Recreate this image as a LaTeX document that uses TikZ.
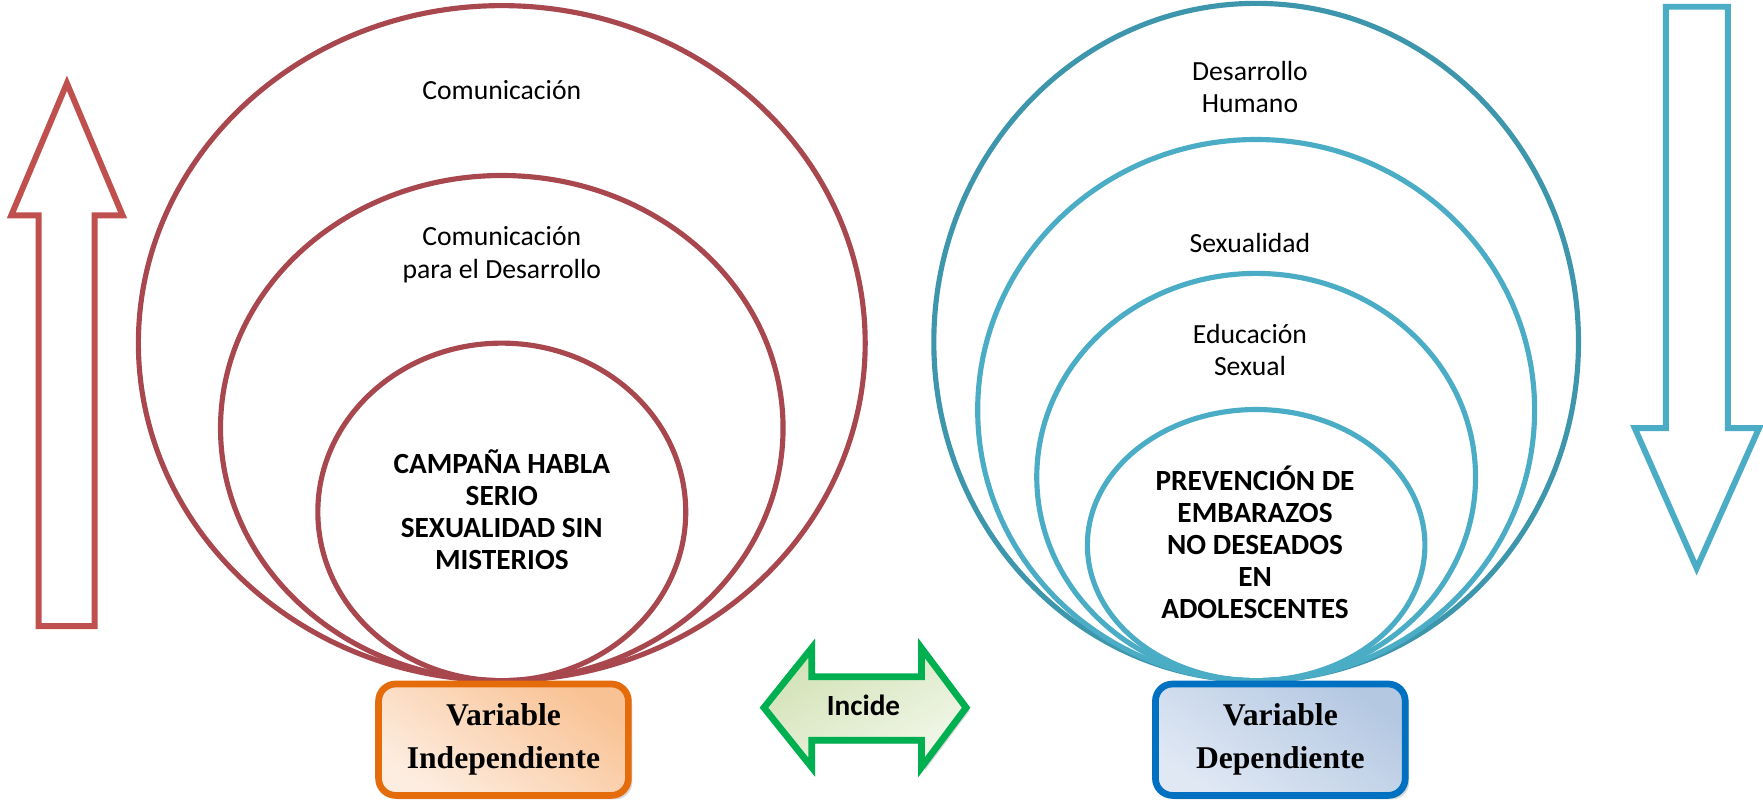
\documentclass[tikz,border=0pt]{standalone}
\usepackage{fontspec}
\setmainfont{Liberation Serif}
\newfontfamily\calibri{Carlito}
\usetikzlibrary{positioning, shadows}

\definecolor{ringred}{RGB}{168,72,78}
\definecolor{arrowred}{RGB}{192,80,77}
\definecolor{ringteal}{RGB}{62,150,172}
\definecolor{ringcyan}{RGB}{75,172,198}
\definecolor{boxorange}{RGB}{228,108,10}
\definecolor{peachdark}{RGB}{249,194,148}
\definecolor{peachlight}{RGB}{253,237,224}
\definecolor{boxblue}{RGB}{0,112,192}
\definecolor{bluedark}{RGB}{180,200,226}
\definecolor{bluelight}{RGB}{224,232,244}
\definecolor{arrowgreen}{RGB}{0,176,80}
\definecolor{greendark}{RGB}{210,226,182}
\definecolor{greenlight}{RGB}{242,247,233}

\begin{document}
\begin{tikzpicture}
   [
      ring/.style={line width=1.3pt},
      ring text/.style={font=\calibri\fontsize{7}{8.2}\selectfont, align=center},
      core text/.style={font=\calibri\bfseries\fontsize{7.4}{8.1}\selectfont, align=center},
      block arrow/.style={line width=1.5pt, line join=miter, miter limit=10},
      var box/.style={rectangle, rounded corners=4.3pt, line width=1.7pt,
                      minimum width=2.22cm, minimum height=0.99cm, align=center,
                      font=\bfseries\fontsize{8}{10.8}\selectfont,
                      drop shadow={shadow xshift=0.035cm, shadow yshift=-0.035cm, fill=black!30}},
      incide text/.style={font=\calibri\bfseries\fontsize{7.4}{8}\selectfont}
   ]
   \useasboundingbox (0,0) rectangle (15.67,-7.14);

   % =======================================================
   % Left side: Comunicacion rings (independent variable)
   % =======================================================

   % Rings, all touching at the bottom
   \coordinate (left base) at (4.46,-6.05);
   \draw[ring, draw=ringred] (4.46,-3.05) ellipse (3.23cm and 3.00cm);
   \draw[ring, draw=ringred] (4.46,-3.805) ellipse (2.50cm and 2.245cm);
   \draw[ring, draw=ringred] (4.46,-4.55) ellipse (1.635cm and 1.50cm);

   % Ring labels
   \node[ring text] (comunicacion) at (4.46,-0.80) {Comunicación};
   \node[ring text] (com desarrollo) at (4.46,-2.265) {Comunicación\\para el Desarrollo};
   \node[core text] (campana) at (4.46,-4.53) {CAMPAÑA HABLA\\SERIO\\SEXUALIDAD SIN\\MISTERIOS};

   % Up arrow
   \draw[block arrow, draw=arrowred] (0.344,-5.565) -- (0.841,-5.565) -- (0.841,-1.915)
      -- (1.09,-1.915) -- (0.595,-0.74) -- (0.10,-1.915) -- (0.344,-1.915) -- cycle;

   % Variable box
   \node[var box, draw=boxorange, top color=peachdark, bottom color=peachlight, shading angle=-35,
         below=0pt of left base, xshift=0.015cm] (indep) {Variable\\Independiente};

   % =======================================================
   % Right side: Desarrollo rings (dependent variable)
   % =======================================================

   % Rings, all touching at the bottom
   \coordinate (right base) at (11.165,-6.05);
   \draw[ring, draw=ringteal] (11.165,-3.04) ellipse (2.865cm and 3.01cm);
   \draw[ring, draw=ringcyan] (11.165,-3.645) ellipse (2.475cm and 2.405cm);
   \draw[ring, draw=ringcyan] (11.165,-4.24) ellipse (1.95cm and 1.81cm);
   \draw[ring, draw=ringcyan] (11.165,-4.845) ellipse (1.50cm and 1.205cm);

   % Ring labels
   \node[ring text] (humano) at (11.11,-0.775) {Desarrollo\\Humano};
   \node[ring text] (sexualidad) at (11.11,-2.16) {Sexualidad};
   \node[ring text] (educacion) at (11.11,-3.11) {Educación\\Sexual};
   \node[core text] (prevencion) at (11.155,-4.82) {PREVENCIÓN DE\\EMBARAZOS\\NO DESEADOS\\EN\\ADOLESCENTES};

   % Down arrow
   \draw[block arrow, draw=ringcyan] (14.806,-0.06) -- (15.357,-0.06) -- (15.357,-3.805)
      -- (15.635,-3.805) -- (15.08,-5.05) -- (14.53,-3.805) -- (14.806,-3.805) -- cycle;

   % Variable box
   \node[var box, draw=boxblue, top color=bluedark, bottom color=bluelight, shading angle=-35,
         below=0pt of right base, xshift=0.215cm] (dep) {Variable\\Dependiente};

   % =======================================================
   % Middle: Incide double arrow
   % =======================================================

   \draw[line width=1.7pt, draw=arrowgreen, top color=greendark, bottom color=greenlight, shading angle=30,
         drop shadow={shadow xshift=0.03cm, shadow yshift=-0.03cm, fill=black!30}]
      (6.79,-6.29) -- (7.215,-5.76) -- (7.215,-6.015) -- (8.19,-6.015) -- (8.19,-5.76)
      -- (8.587,-6.29) -- (8.19,-6.82) -- (8.19,-6.58) -- (7.215,-6.58) -- (7.215,-6.82) -- cycle;
   \node[incide text] (incide) at (7.675,-6.27) {Incide};

\end{tikzpicture}
\end{document}
